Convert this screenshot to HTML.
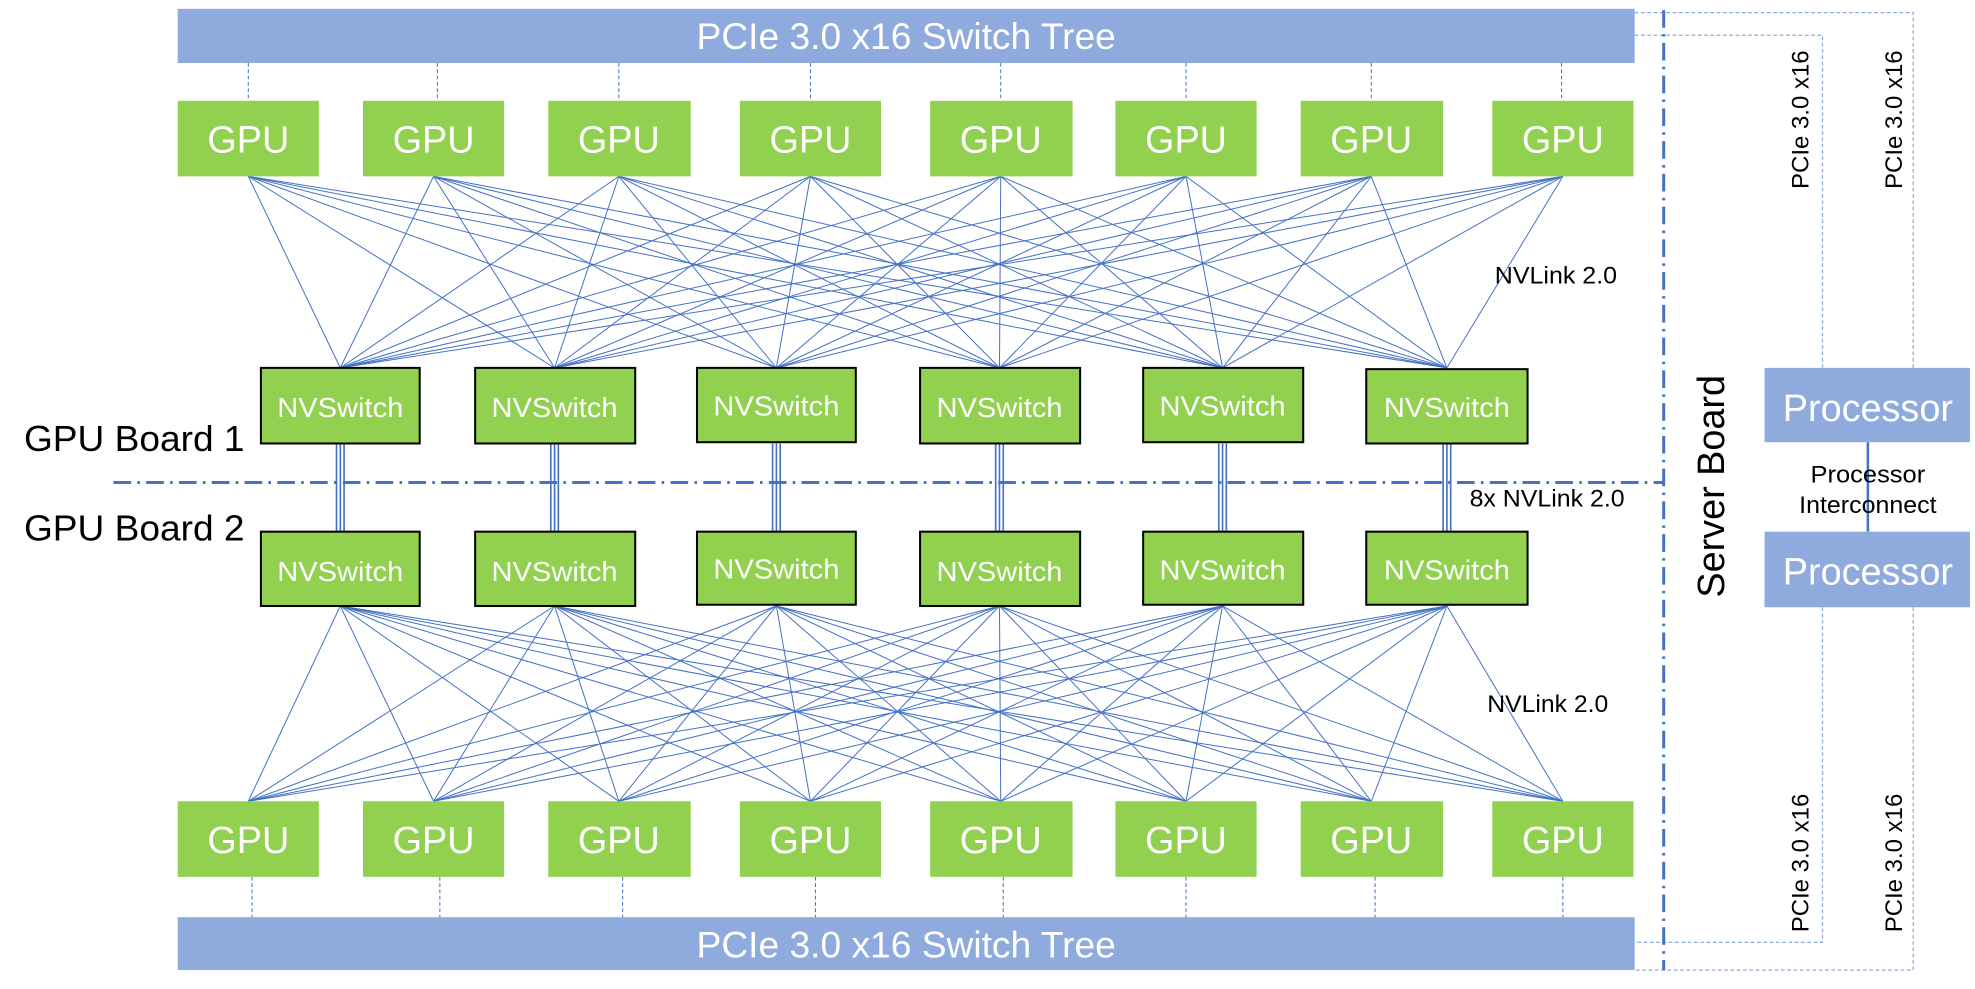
<!DOCTYPE html>
<html><head><meta charset="utf-8"><style>html,body{margin:0;padding:0;background:#fff;}svg{display:block}</style></head>
<body>
<svg width="1975" height="989" viewBox="0 0 1567 785" preserveAspectRatio="none" xmlns="http://www.w3.org/2000/svg" font-family="Liberation Sans, Arial, sans-serif">
<g id="lines" stroke="#4472C4" stroke-width="0.8" fill="none"></g>
<script>
(function(){
var ns="http://www.w3.org/2000/svg",g=document.getElementById("lines");
var gt=[197,344,491,643,794,941,1088,1240],sw=[270,440,616,793,970,1148];
function L(x1,y1,x2,y2){var l=document.createElementNS(ns,"line");l.setAttribute("x1",x1);l.setAttribute("y1",y1);l.setAttribute("x2",x2);l.setAttribute("y2",y2);g.appendChild(l);}
gt.forEach(function(a){sw.forEach(function(b){L(a,140,b,292);L(b,481,a,636);});});
})();
</script>
<!-- bars -->
<rect x="141" y="7" width="1156" height="43" fill="#8FAADC"/>
<text x="719" y="39" font-size="29.5" fill="#fff" text-anchor="middle">PCIe 3.0 x16 Switch Tree</text>
<rect x="141" y="728" width="1156" height="42" fill="#8FAADC"/>
<text x="719" y="760" font-size="29.5" fill="#fff" text-anchor="middle">PCIe 3.0 x16 Switch Tree</text>
<!-- dashed bar links -->
<g stroke="#4472C4" stroke-width="0.8" stroke-dasharray="3,2">
<line x1="197" y1="50" x2="197" y2="80"/><line x1="347" y1="50" x2="347" y2="80"/><line x1="491" y1="50" x2="491" y2="80"/><line x1="643" y1="50" x2="643" y2="80"/><line x1="794" y1="50" x2="794" y2="80"/><line x1="941" y1="50" x2="941" y2="80"/><line x1="1088" y1="50" x2="1088" y2="80"/><line x1="1239" y1="50" x2="1239" y2="80"/>
<line x1="200" y1="696" x2="200" y2="728"/><line x1="349" y1="696" x2="349" y2="728"/><line x1="494" y1="696" x2="494" y2="728"/><line x1="647" y1="696" x2="647" y2="728"/><line x1="796" y1="696" x2="796" y2="728"/><line x1="941" y1="696" x2="941" y2="728"/><line x1="1091" y1="696" x2="1091" y2="728"/><line x1="1240" y1="696" x2="1240" y2="728"/>
</g>
<g stroke="#8FAADC" stroke-width="1" stroke-dasharray="3,2" fill="none">
<polyline points="1297,28 1446,28 1446,292"/>
<polyline points="1297,10 1518,10 1518,292"/>
<polyline points="1446,482 1446,748 1297,748"/>
<polyline points="1518,482 1518,770 1297,770"/>
</g>
<!-- GPUs -->
<g fill="#92D050">
<rect x="141" y="80" width="112" height="60"/><rect x="288" y="80" width="112" height="60"/><rect x="435" y="80" width="113" height="60"/><rect x="587" y="80" width="112" height="60"/><rect x="738" y="80" width="113" height="60"/><rect x="885" y="80" width="112" height="60"/><rect x="1032" y="80" width="113" height="60"/><rect x="1184" y="80" width="112" height="60"/>
<rect x="141" y="636" width="112" height="60"/><rect x="288" y="636" width="112" height="60"/><rect x="435" y="636" width="113" height="60"/><rect x="587" y="636" width="112" height="60"/><rect x="738" y="636" width="113" height="60"/><rect x="885" y="636" width="112" height="60"/><rect x="1032" y="636" width="113" height="60"/><rect x="1184" y="636" width="112" height="60"/>
</g>
<g fill="#fff" font-size="30" text-anchor="middle">
<text x="197" y="121">GPU</text><text x="344" y="121">GPU</text><text x="491" y="121">GPU</text><text x="643" y="121">GPU</text><text x="794" y="121">GPU</text><text x="941" y="121">GPU</text><text x="1088" y="121">GPU</text><text x="1240" y="121">GPU</text>
<text x="197" y="677">GPU</text><text x="344" y="677">GPU</text><text x="491" y="677">GPU</text><text x="643" y="677">GPU</text><text x="794" y="677">GPU</text><text x="941" y="677">GPU</text><text x="1088" y="677">GPU</text><text x="1240" y="677">GPU</text>
</g>
<!-- vertical triple links -->
<g stroke="#4472C4" stroke-width="1.3">
<line x1="267" y1="352" x2="267" y2="422"/><line x1="270" y1="352" x2="270" y2="422"/><line x1="273" y1="352" x2="273" y2="422"/>
<line x1="437" y1="352" x2="437" y2="422"/><line x1="440" y1="352" x2="440" y2="422"/><line x1="443" y1="352" x2="443" y2="422"/>
<line x1="613" y1="352" x2="613" y2="422"/><line x1="616" y1="352" x2="616" y2="422"/><line x1="619" y1="352" x2="619" y2="422"/>
<line x1="790" y1="352" x2="790" y2="422"/><line x1="793" y1="352" x2="793" y2="422"/><line x1="796" y1="352" x2="796" y2="422"/>
<line x1="967" y1="352" x2="967" y2="422"/><line x1="970" y1="352" x2="970" y2="422"/><line x1="973" y1="352" x2="973" y2="422"/>
<line x1="1145" y1="352" x2="1145" y2="422"/><line x1="1148" y1="352" x2="1148" y2="422"/><line x1="1151" y1="352" x2="1151" y2="422"/>
</g>
<!-- NVSwitches -->
<g fill="#92D050" stroke="#000" stroke-width="1.6">
<rect x="207" y="292" width="126" height="60"/><rect x="377" y="292" width="127" height="60"/><rect x="553" y="292" width="126" height="59"/><rect x="730" y="292" width="127" height="60"/><rect x="907" y="292" width="127" height="59"/><rect x="1084" y="293" width="128" height="59"/>
<rect x="207" y="422" width="126" height="59"/><rect x="377" y="422" width="127" height="59"/><rect x="553" y="422" width="126" height="58"/><rect x="730" y="422" width="127" height="59"/><rect x="907" y="422" width="127" height="58"/><rect x="1084" y="422" width="128" height="58"/>
</g>
<g fill="#fff" font-size="22" text-anchor="middle" textLength="100">
<text x="270" y="331" textLength="100" lengthAdjust="spacingAndGlyphs">NVSwitch</text><text x="440" y="331" textLength="100" lengthAdjust="spacingAndGlyphs">NVSwitch</text><text x="616" y="330" textLength="100" lengthAdjust="spacingAndGlyphs">NVSwitch</text><text x="793" y="331" textLength="100" lengthAdjust="spacingAndGlyphs">NVSwitch</text><text x="970" y="330" textLength="100" lengthAdjust="spacingAndGlyphs">NVSwitch</text><text x="1148" y="331" textLength="100" lengthAdjust="spacingAndGlyphs">NVSwitch</text>
<text x="270" y="461" textLength="100" lengthAdjust="spacingAndGlyphs">NVSwitch</text><text x="440" y="461" textLength="100" lengthAdjust="spacingAndGlyphs">NVSwitch</text><text x="616" y="459" textLength="100" lengthAdjust="spacingAndGlyphs">NVSwitch</text><text x="793" y="461" textLength="100" lengthAdjust="spacingAndGlyphs">NVSwitch</text><text x="970" y="460" textLength="100" lengthAdjust="spacingAndGlyphs">NVSwitch</text><text x="1148" y="460" textLength="100" lengthAdjust="spacingAndGlyphs">NVSwitch</text>
</g>
<!-- dash-dot boundaries -->
<g stroke="#4472C4" stroke-width="2.4" stroke-dasharray="14,5,2,5" fill="none">
<line x1="90" y1="383" x2="1320" y2="383"/>
<line x1="1320" y1="8" x2="1320" y2="770"/>
</g>
<!-- labels -->
<g fill="#000">
<text x="19" y="358" font-size="29" textLength="175" lengthAdjust="spacingAndGlyphs">GPU Board 1</text>
<text x="19" y="429" font-size="29" textLength="175" lengthAdjust="spacingAndGlyphs">GPU Board 2</text>
<text x="1186" y="225" font-size="19" textLength="97" lengthAdjust="spacingAndGlyphs">NVLink 2.0</text>
<text x="1180" y="565" font-size="19" textLength="96" lengthAdjust="spacingAndGlyphs">NVLink 2.0</text>
<text x="1166" y="402" font-size="19" textLength="123" lengthAdjust="spacingAndGlyphs">8x NVLink 2.0</text>
<text transform="translate(1368,386) rotate(-90)" font-size="30" text-anchor="middle">Server Board</text>
<text transform="translate(1435,95) rotate(-90)" font-size="19" text-anchor="middle" textLength="110" lengthAdjust="spacingAndGlyphs">PCIe 3.0 x16</text>
<text transform="translate(1509,95) rotate(-90)" font-size="19" text-anchor="middle" textLength="110" lengthAdjust="spacingAndGlyphs">PCIe 3.0 x16</text>
<text transform="translate(1435,685) rotate(-90)" font-size="19" text-anchor="middle" textLength="110" lengthAdjust="spacingAndGlyphs">PCIe 3.0 x16</text>
<text transform="translate(1509,685) rotate(-90)" font-size="19" text-anchor="middle" textLength="110" lengthAdjust="spacingAndGlyphs">PCIe 3.0 x16</text>
</g>
<!-- processors -->
<line x1="1482" y1="351" x2="1482" y2="422" stroke="#4472C4" stroke-width="2"/>
<rect x="1400" y="292" width="163" height="59" fill="#8FAADC"/>
<rect x="1400" y="422" width="163" height="60" fill="#8FAADC"/>
<text x="1482" y="334" font-size="30" fill="#fff" text-anchor="middle" textLength="135" lengthAdjust="spacingAndGlyphs">Processor</text>
<text x="1482" y="464" font-size="30" fill="#fff" text-anchor="middle" textLength="135" lengthAdjust="spacingAndGlyphs">Processor</text>
<text x="1482" y="383" font-size="19" text-anchor="middle" textLength="91" lengthAdjust="spacingAndGlyphs">Processor</text>
<text x="1482" y="407" font-size="19" text-anchor="middle" textLength="109" lengthAdjust="spacingAndGlyphs">Interconnect</text>
</svg>
</body></html>
